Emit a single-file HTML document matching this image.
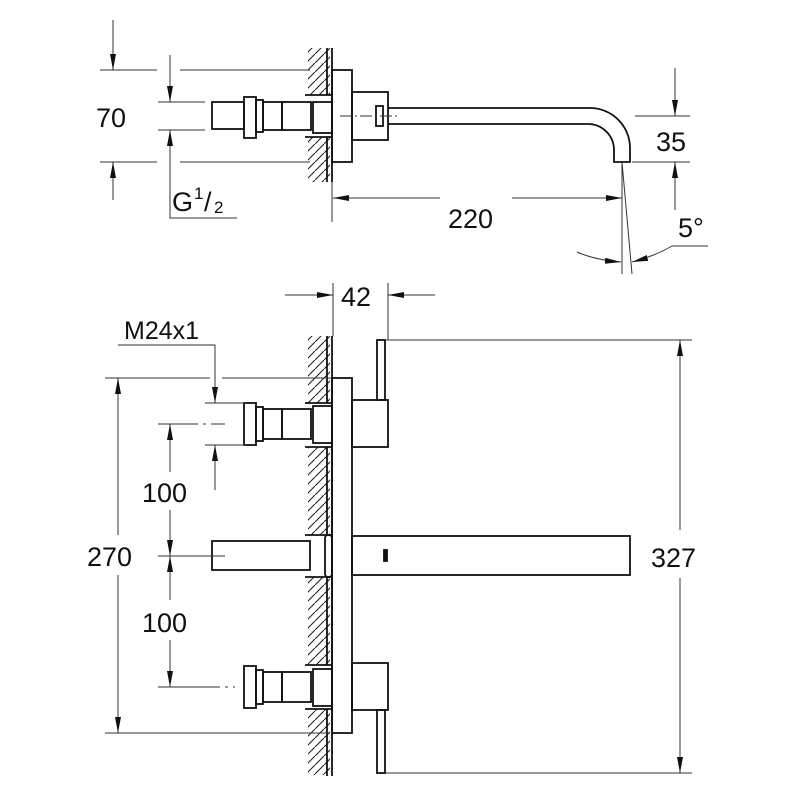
<!DOCTYPE html>
<html><head><meta charset="utf-8"><style>html,body{margin:0;padding:0;background:#fff}svg{display:block}text{font-family:"Liberation Sans",sans-serif;fill:#111}</style></head>
<body>
<svg width="800" height="800" viewBox="0 0 800 800" xmlns="http://www.w3.org/2000/svg">
<defs>
<pattern id="h" width="9" height="9" patternUnits="userSpaceOnUse"><path d="M0,9 L9,0" stroke="#222" stroke-width="1.1"/></pattern>
<marker id="a" viewBox="0 0 16 6" refX="16" refY="3" markerWidth="16" markerHeight="6" preserveAspectRatio="none" orient="auto-start-reverse" markerUnits="userSpaceOnUse"><path d="M0,0 L16,3 L0,6z" fill="#111"/></marker>
</defs>
<g fill="none" stroke="#111" stroke-width="1.8">
<rect x="308" y="48" width="22" height="47" fill="url(#h)" stroke="none"/>
<rect x="308" y="137" width="22" height="45" fill="url(#h)" stroke="none"/>
<line x1="332" y1="48" x2="332" y2="182"/>
<line x1="327" y1="48" x2="327" y2="95"/><line x1="327" y1="137" x2="327" y2="182"/>
<line x1="305" y1="95" x2="332" y2="95"/><line x1="305" y1="137" x2="332" y2="137"/>
<rect x="332" y="70" width="20" height="92"/>
<rect x="352" y="92" width="36" height="48"/>
<rect x="376" y="106" width="7" height="20"/>
<path d="M388,108 L590,108 A40,40 0 0 1 630,148 L630,162 L614,162 L614,150 A26,26 0 0 0 588,124 L388,124"/>
<rect x="212" y="102" width="32" height="27"/>
<rect x="244" y="97" width="12" height="41"/>
<rect x="256" y="100" width="7" height="32"/>
<rect x="263" y="102" width="19" height="28"/>
<rect x="282" y="102" width="29" height="28"/>
<rect x="313" y="102" width="19" height="31"/>
</g>
<g fill="none" stroke="#333" stroke-width="1">
<line x1="340" y1="116" x2="400" y2="116" stroke-dasharray="12,3,2,3"/>
<line x1="100" y1="70" x2="157" y2="70"/><line x1="180" y1="70" x2="310" y2="70"/>
<line x1="100" y1="162" x2="157" y2="162"/><line x1="180" y1="162" x2="310" y2="162"/>
<line x1="113" y1="20" x2="113" y2="70" marker-end="url(#a)"/>
<line x1="113" y1="200" x2="113" y2="162" marker-end="url(#a)"/>
<line x1="158" y1="102" x2="205" y2="102"/><line x1="158" y1="130" x2="205" y2="130"/>
<line x1="170" y1="55" x2="170" y2="102" marker-end="url(#a)"/>
<path d="M237,218 L170,218 L170,130" marker-end="url(#a)"/>
<line x1="332" y1="182" x2="332" y2="222"/>
<line x1="440" y1="198" x2="333" y2="198" marker-end="url(#a)"/>
<line x1="512" y1="198" x2="622" y2="198" marker-end="url(#a)"/>
<line x1="635" y1="116" x2="690" y2="116"/><line x1="632" y1="162" x2="690" y2="162"/>
<line x1="675" y1="68" x2="675" y2="116" marker-end="url(#a)"/>
<line x1="675" y1="210" x2="675" y2="162" marker-end="url(#a)"/>
<line x1="622" y1="162" x2="622" y2="274"/>
<line x1="622" y1="162" x2="632" y2="274"/>
<path d="M577,252 Q595,260 621,262" marker-end="url(#a)"/>
<path d="M708,246 L672,246 Q655,256 632,262" marker-end="url(#a)"/>
</g>
<text x="96" y="127" font-size="27">70</text>
<text x="172" y="211" font-size="27">G</text><text x="194" y="199" font-size="17">1</text><text x="204" y="211" font-size="27">/</text><text x="214" y="213" font-size="17">2</text>
<text x="448" y="228" font-size="27">220</text>
<text x="656" y="151" font-size="27">35</text>
<text x="678" y="237" font-size="27">5°</text>

<g fill="none" stroke="#111" stroke-width="1.8">
<rect x="308" y="336" width="22" height="67" fill="url(#h)" stroke="none"/>
<rect x="308" y="447" width="22" height="88" fill="url(#h)" stroke="none"/>
<rect x="308" y="577" width="22" height="88" fill="url(#h)" stroke="none"/>
<rect x="308" y="709" width="22" height="66" fill="url(#h)" stroke="none"/>
<line x1="332" y1="336" x2="332" y2="776"/>
<line x1="327" y1="336" x2="327" y2="403"/><line x1="327" y1="447" x2="327" y2="535"/><line x1="327" y1="577" x2="327" y2="665"/><line x1="327" y1="709" x2="327" y2="776"/>
<line x1="305" y1="403" x2="332" y2="403"/><line x1="305" y1="447" x2="332" y2="447"/>
<line x1="305" y1="535" x2="332" y2="535"/><line x1="305" y1="577" x2="332" y2="577"/>
<line x1="305" y1="665" x2="332" y2="665"/><line x1="305" y1="709" x2="332" y2="709"/>
<rect x="332" y="378" width="20" height="355"/>
<rect x="352" y="400" width="36" height="47"/>
<rect x="377" y="340" width="8" height="60"/>
<rect x="352" y="663" width="36" height="47"/>
<rect x="377" y="710" width="8" height="63"/>
<rect x="352" y="536" width="278" height="39"/>
<rect x="384" y="550" width="3" height="11" fill="#111"/>
<rect x="212" y="541" width="98" height="29"/>
<rect x="325" y="535" width="7" height="42" rx="3"/>
<rect x="244" y="403" width="12" height="42"/>
<rect x="256" y="407" width="7" height="34"/>
<rect x="263" y="409" width="19" height="30"/>
<rect x="282" y="409" width="29" height="30"/>
<rect x="313" y="406" width="19" height="37"/>
<rect x="244" y="666" width="12" height="42"/>
<rect x="256" y="670" width="7" height="34"/>
<rect x="263" y="672" width="19" height="30"/>
<rect x="282" y="672" width="29" height="30"/>
<rect x="313" y="669" width="19" height="37"/>
</g>
<g fill="none" stroke="#333" stroke-width="1">
<line x1="333" y1="283" x2="333" y2="336"/><line x1="388" y1="283" x2="388" y2="340"/>
<line x1="285" y1="295" x2="333" y2="295" marker-end="url(#a)"/>
<line x1="435" y1="295" x2="388" y2="295" marker-end="url(#a)"/>
<line x1="385" y1="340" x2="692" y2="340"/><line x1="385" y1="773" x2="692" y2="773"/>
<line x1="680" y1="530" x2="680" y2="340" marker-end="url(#a)"/>
<line x1="680" y1="578" x2="680" y2="773" marker-end="url(#a)"/>
<line x1="105" y1="378" x2="210" y2="378"/><line x1="222" y1="378" x2="332" y2="378"/>
<line x1="105" y1="733" x2="330" y2="733"/>
<line x1="118" y1="535" x2="118" y2="378" marker-end="url(#a)"/>
<line x1="118" y1="575" x2="118" y2="733" marker-end="url(#a)"/>
<path d="M118,345 L215,345 L215,403" marker-end="url(#a)"/>
<line x1="215" y1="490" x2="215" y2="445" marker-end="url(#a)"/>
<line x1="205" y1="403" x2="245" y2="403"/><line x1="205" y1="445" x2="245" y2="445"/>
<line x1="158" y1="424" x2="225" y2="424" stroke-dasharray="40,5,3,5"/>
<line x1="170" y1="472" x2="170" y2="424" marker-end="url(#a)"/>
<line x1="170" y1="510" x2="170" y2="556" marker-end="url(#a)"/>
<line x1="158" y1="556" x2="225" y2="556"/>
<line x1="170" y1="600" x2="170" y2="556" marker-end="url(#a)"/>
<line x1="170" y1="640" x2="170" y2="687" marker-end="url(#a)"/>
<line x1="158" y1="687" x2="235" y2="687" stroke-dasharray="62,5,3,5"/>
</g>
<text x="341" y="306" font-size="27">42</text>
<text x="124" y="339" font-size="25">M24x1</text>
<text x="142" y="502" font-size="27">100</text>
<text x="142" y="632" font-size="27">100</text>
<text x="87" y="566" font-size="27">270</text>
<text x="651" y="567" font-size="27">327</text>
</svg>
</body></html>
